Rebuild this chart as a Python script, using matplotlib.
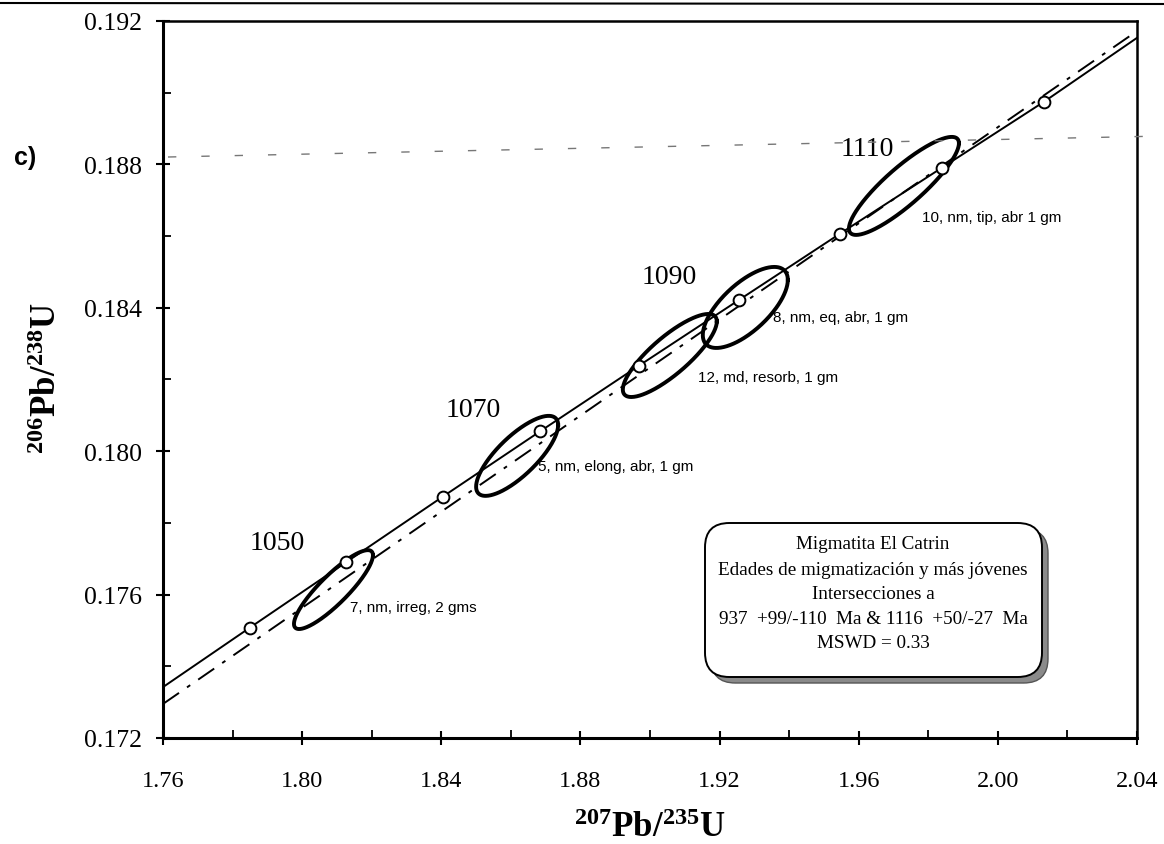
import numpy as np
import matplotlib
matplotlib.use("Agg")
import matplotlib.pyplot as plt
from matplotlib.patches import FancyBboxPatch
from matplotlib.lines import Line2D
from matplotlib.ticker import MultipleLocator, FormatStrFormatter

# concordia points (open circles), ages 1040..1120 Ma
conc_age = [1040, 1050, 1060, 1070, 1080, 1090, 1100, 1110, 1120]
conc_x = [1.7850, 1.8126, 1.8404, 1.8685, 1.8969, 1.9256, 1.9545, 1.9838, 2.0133]
conc_y = [0.17508, 0.17690, 0.17873, 0.18056, 0.18239, 0.18422, 0.18606, 0.18790, 0.18975]
# concordia ends at the plot edges
conc_end_x = [1.76, 2.04]
conc_end_y = [0.17342, 0.19153]

# discordia (dash-dot) ends
disc_x = [1.76, 2.04]
disc_y = [0.17295, 0.19172]

# age labels on the concordia
age_labels = ["1050", "1070", "1090", "1110"]
age_lab_x = [1.7928, 1.8491, 1.9056, 1.9624]
age_lab_y = [0.17744, 0.18115, 0.18486, 0.18843]

# error ellipses: centre, half extent in x / y, correlation
ell_cx = [1.8090, 1.8618, 1.9057, 1.9274, 1.9730]
ell_cy = [0.17614, 0.17987, 0.18267, 0.18401, 0.18740]
ell_ax = [0.01135, 0.01179, 0.01351, 0.01222, 0.01581]
ell_ay = [0.00110, 0.001116, 0.001158, 0.00113, 0.001367]
ell_rho = [0.87, 0.77, 0.82, 0.68, 0.87]
ell_labels = ["7, nm, irreg, 2 gms", "5, nm, elong, abr, 1 gm", "12, md, resorb, 1 gm",
              "8, nm, eq, abr, 1 gm", "10, nm, tip, abr 1 gm"]
ell_lab_x = [1.8138, 1.8678, 1.9138, 1.9353, 1.9782]
ell_lab_y = [0.17565, 0.17959, 0.18207, 0.18374, 0.18653]

box_lines = ["Migmatita El Catrin",
             "Edades de migmatización y más jóvenes",
             "Intersecciones a",
             "937  +99/-110  Ma & 1116  +50/-27  Ma",
             "MSWD = 0.33"]

plt.rcParams['mathtext.fontset'] = 'custom'
plt.rcParams['mathtext.rm'] = 'Liberation Serif:bold'
plt.rcParams['mathtext.it'] = 'Liberation Serif:bold'
plt.rcParams['mathtext.bf'] = 'Liberation Serif:bold'
plt.rcParams['mathtext.default'] = 'rm'

fig = plt.figure(figsize=(11.64, 8.45), dpi=100)
ax = fig.add_axes([163 / 1164, 1 - 739 / 845, 974 / 1164, 717 / 845])

# concordia
cx_line = [conc_end_x[0]] + conc_x + [conc_end_x[1]]
cy_line = [conc_end_y[0]] + conc_y + [conc_end_y[1]]
ax.plot(cx_line, cy_line, color='black', lw=1.4, zorder=3)
# discordia
ax.plot(disc_x, disc_y, color='black', lw=1.4, linestyle=(0, (10, 5, 2, 5)), zorder=3)

# ellipses
t = np.linspace(0, 2 * np.pi, 300)
for i in range(len(ell_cx)):
    ex = ell_cx[i] + ell_ax[i] * np.cos(t)
    ey = ell_cy[i] + ell_ay[i] * (ell_rho[i] * np.cos(t) + np.sqrt(1 - ell_rho[i] ** 2) * np.sin(t))
    ax.plot(ex, ey, color='black', lw=2.8, zorder=4)
    ax.text(ell_lab_x[i], ell_lab_y[i], ell_labels[i], family='Liberation Sans',
            fontsize=11, ha='left', va='center', zorder=6)

ax.plot(conc_x, conc_y, 'o', ms=8.5, mfc='white', mec='black', mew=1.4, zorder=5)

for i in range(len(age_labels)):
    ax.text(age_lab_x[i], age_lab_y[i], age_labels[i], family='Liberation Serif',
            fontsize=20, ha='center', va='center')

ax.set_xlim(1.76, 2.04)
ax.set_ylim(0.172, 0.192)
ax.xaxis.set_major_locator(MultipleLocator(0.04))
ax.xaxis.set_minor_locator(MultipleLocator(0.02))
ax.yaxis.set_major_locator(MultipleLocator(0.004))
ax.yaxis.set_minor_locator(MultipleLocator(0.002))
ax.xaxis.set_major_formatter(FormatStrFormatter('%.2f'))
ax.yaxis.set_major_formatter(FormatStrFormatter('%.3f'))
ax.tick_params(which='major', direction='inout', length=10, width=1.5)
ax.tick_params(which='minor', direction='in', length=6, width=1.3)
ax.tick_params(axis='x', which='major', pad=18, labelsize=17.5)
ax.tick_params(axis='y', which='major', pad=10, labelsize=18.5)
for lab in ax.get_xticklabels() + ax.get_yticklabels():
    lab.set_family('Liberation Serif')
for s in ['left', 'bottom']:
    ax.spines[s].set_linewidth(2.2)
for s in ['top', 'right']:
    ax.spines[s].set_linewidth(1.8)

# info box with shadow
w = 337 / 974
h = 154 / 717
x0 = (705 - 163) / 974
y0 = (739 - 678) / 717
asp = 974 / 717
shadow = FancyBboxPatch((x0 + 6 / 974, y0 - 6 / 717), w, h, transform=ax.transAxes,
                        boxstyle="round,pad=0,rounding_size=0.025", mutation_aspect=asp,
                        facecolor='#8a8a8a', edgecolor='#555555', lw=1, zorder=6)
box = FancyBboxPatch((x0, y0), w, h, transform=ax.transAxes,
                     boxstyle="round,pad=0,rounding_size=0.025", mutation_aspect=asp,
                     facecolor='white', edgecolor='black', lw=1.4, zorder=7)
ax.add_patch(shadow)
ax.add_patch(box)
line_py = [545, 571, 595, 620, 644]
for txt, py in zip(box_lines, line_py):
    ax.text((873 - 163) / 974, (739 - py) / 717, txt, transform=ax.transAxes,
            family='Liberation Serif', fontsize=13.8, ha='center', va='center', zorder=8)

fig.text(48 / 1164, 1 - 378 / 845, r'$^{206}$Pb/$^{238}$U', rotation=90, ha='center',
         va='center', family='Liberation Serif', fontweight='bold', fontsize=25)
fig.text(650 / 1164, 1 - 829 / 845, r'$^{207}$Pb/$^{235}$U', ha='center',
         va='center', family='Liberation Serif', fontweight='bold', fontsize=25)
fig.text(25 / 1164, 1 - 158 / 845, 'c)', ha='center', va='center',
         family='Liberation Sans', fontweight='bold', fontsize=18)

# scan artefacts: rule at the top and a faint dashed stroke
fig.add_artist(Line2D([0, 1], [1 - 4 / 845, 1 - 5 / 845], transform=fig.transFigure,
                      color='black', lw=1.5))
fig.add_artist(Line2D([168 / 1164, 1], [1 - 158 / 845, 1 - 137 / 845], transform=fig.transFigure,
                      color='#777777', lw=1, linestyle=(0, (6, 18))))

fig.savefig('out.png', dpi=100)
